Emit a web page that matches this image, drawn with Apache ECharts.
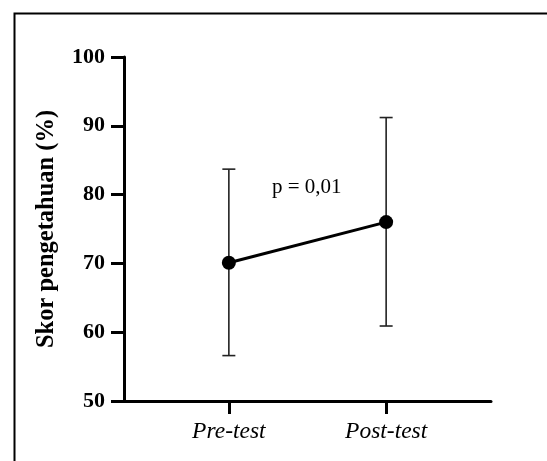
<!DOCTYPE html>
<html>
<head>
<meta charset="utf-8">
<script src="https://cdn.jsdelivr.net/npm/echarts@6/dist/echarts.min.js"></script>
<style>html,body{margin:0;padding:0;background:#fff}#c{width:547px;height:461px}</style>
</head>
<body>
<div id="c"></div>
<script>
const categories = ['Pre-test', 'Post-test'];
const categoryPos = [1, 2];
const means = [70.1, 76.0];
const upper = [83.7, 91.2];
const lower = [56.6, 60.9];
const yTicks = [50, 60, 70, 80, 90, 100];
const yTitle = 'Skor pengetahuan (%)';
const pText = 'p = 0,01';

const serif = '"Liberation Serif", "DejaVu Serif", serif';
const chart = echarts.init(document.getElementById('c'), null, {renderer: 'canvas'});

const lineData = categoryPos.map((x, i) => [x, means[i]]);
const errData = categoryPos.map((x, i) => [x, lower[i], upper[i]]);

chart.setOption({
  animation: false,
  backgroundColor: '#fff',
  grid: {left: 124, right: 56, top: 57, bottom: 60, containLabel: false},
  xAxis: {
    type: 'value',
    min: 1/3, max: 8/3,
    splitLine: {show: false},
    axisLine: {show: true, onZero: false, lineStyle: {color: '#000', width: 3}},
    axisTick: {show: true, customValues: categoryPos, length: 13, lineStyle: {color: '#000', width: 3}},
    axisLabel: {
      customValues: categoryPos,
      formatter: v => categories[categoryPos.indexOf(Math.round(v))] || '',
      fontFamily: serif, fontStyle: 'italic', fontSize: 23.5, color: '#000', margin: 19
    }
  },
  yAxis: {
    type: 'value',
    min: yTicks[0], max: yTicks[yTicks.length - 1], interval: 10,
    splitLine: {show: false},
    axisLine: {show: true, lineStyle: {color: '#000', width: 3}},
    axisTick: {show: true, length: 13, lineStyle: {color: '#000', width: 3}},
    axisLabel: {fontFamily: serif, fontWeight: 'bold', fontSize: 22, color: '#000', margin: 19},
    name: yTitle,
    nameLocation: 'middle',
    nameGap: 65,
    nameTextStyle: {fontFamily: serif, fontWeight: 'bold', fontSize: 24.5, color: '#000'}
  },
  graphic: [
    {type: 'rect', left: 12, top: 11, shape: {width: 600, height: 500}, style: {fill: 'none', stroke: '#000', lineWidth: 2}, z: 100},
    {type: 'text', left: 272, top: 177, style: {text: pText, font: '21px ' + serif, fill: '#000'}}
  ],
  series: [
    {
      type: 'custom',
      data: errData,
      z: 1,
      renderItem: function (params, api) {
        const x = api.value(0);
        const lo = api.coord([x, api.value(1)]);
        const hi = api.coord([x, api.value(2)]);
        const hw = 6.5;
        const st = {stroke: '#222', lineWidth: 1.6};
        return {
          type: 'group',
          children: [
            {type: 'line', shape: {x1: lo[0], y1: lo[1], x2: hi[0], y2: hi[1]}, style: st},
            {type: 'line', shape: {x1: hi[0] - hw, y1: hi[1], x2: hi[0] + hw, y2: hi[1]}, style: st},
            {type: 'line', shape: {x1: lo[0] - hw, y1: lo[1], x2: lo[0] + hw, y2: lo[1]}, style: st}
          ]
        };
      }
    },
    {
      type: 'line',
      data: lineData,
      z: 3,
      symbol: 'circle',
      symbolSize: 14,
      itemStyle: {color: '#000'},
      lineStyle: {color: '#000', width: 3}
    }
  ]
});
</script>
</body>
</html>
